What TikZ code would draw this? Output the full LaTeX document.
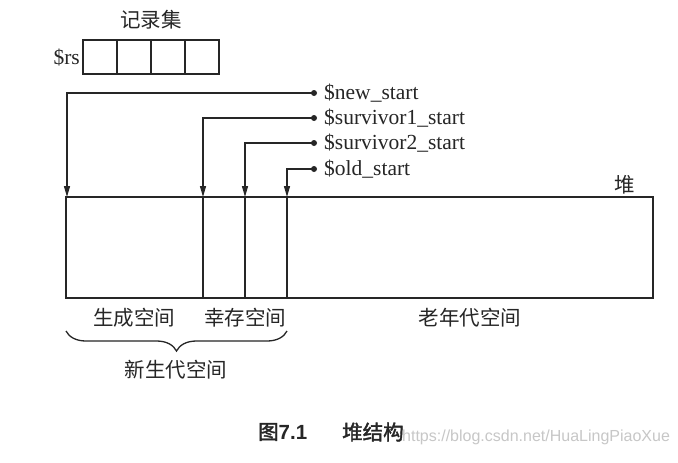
\documentclass[tikz,border=0pt]{standalone}
\usepackage{fontspec}
\setmainfont{Liberation Serif}
\newfontfamily\cjk{Noto Sans CJK SC}
\newfontfamily\cjkbold{Noto Sans CJK SC}[AutoFakeBold=2]
\newfontfamily\capsans{Liberation Sans}
\usetikzlibrary{arrows.meta,decorations.pathreplacing}
\begin{document}
\begin{tikzpicture}[x=1pt,y=-1pt,
  boxline/.style={line width=1.8pt,draw=black!85},
  ptr/.style={line width=1.4pt,draw=black!85,-{Triangle[width=6pt,length=11pt]}},
  dotc/.style={circle,fill=black!85,inner sep=0pt,minimum size=6pt},
  lbl/.style={font=\fontsize{21.5}{24}\selectfont,inner sep=0pt,text=black!85},
  clbl/.style={font=\cjk\fontsize{20.5}{23}\selectfont,inner sep=0pt,text=black!85},
  caplbl/.style={font=\cjkbold\bfseries\fontsize{20.5}{23}\selectfont,inner sep=0pt,anchor=west,text=black!85},
  cell/.style={boxline,minimum width=34pt,minimum height=34pt,inner sep=0pt}
]
\useasboundingbox (0,0) rectangle (678,463);
\fill[white] (0,0) rectangle (678,463);
% record set
\node[clbl] (rsname) at (151,20) {记录集};
\node[cell] (c1) at (100,57) {};
\node[cell] (c2) at (134,57) {};
\node[cell] (c3) at (168,57) {};
\node[cell] (c4) at (202,57) {};
\node[lbl,anchor=east] (rs) at (80,58) {\$rs};
% heap
\draw[boxline] (66,197) rectangle (653,298);
\coordinate (h0) at (67,197);
\coordinate (h1) at (203,197);
\coordinate (h2) at (245,197);
\coordinate (h3) at (287,197);
\draw[boxline] (203,197) -- (203,298);
\draw[boxline] (245,197) -- (245,298);
\draw[boxline] (287,197) -- (287,298);
\node[clbl] (heap) at (625,185) {堆};
% pointers
\node[dotc] (d1) at (314,93) {};
\node[dotc] (d2) at (314,118) {};
\node[dotc] (d3) at (314,143) {};
\node[dotc] (d4) at (314,169) {};
\node[lbl,anchor=west] (n1) at (324,93) {\$new\_start};
\node[lbl,anchor=west] (n2) at (324,118) {\$survivor1\_start};
\node[lbl,anchor=west] (n3) at (324,143) {\$survivor2\_start};
\node[lbl,anchor=west] (n4) at (324,169) {\$old\_start};
\draw[ptr] (d1.center) -| (h0);
\draw[ptr] (d2.center) -| (h1);
\draw[ptr] (d3.center) -| (h2);
\draw[ptr] (d4.center) -| (h3);
% labels below
\node[clbl] (gen) at (134,318) {生成空间};
\node[clbl] (surv) at (245,318) {幸存空间};
\node[clbl] (old) at (470,318) {老年代空间};
\draw[line width=1.3pt,draw=black!85,decorate,decoration={brace,mirror,amplitude=20pt}] (66,331) -- (287,331);
\node[clbl] (young) at (176,370) {新生代空间};
% caption
\node[caplbl] (cap1) at (258,432) {图\capsans\bfseries 7.1};
\node[caplbl] (cap2) at (342,432) {堆结构};
\node[font=\capsans\fontsize{16}{18}\selectfont,inner sep=0pt,anchor=west,text=black!22] (wm) at (402,437) {https://blog.csdn.net/HuaLingPiaoXue};
\end{tikzpicture}
\end{document}
